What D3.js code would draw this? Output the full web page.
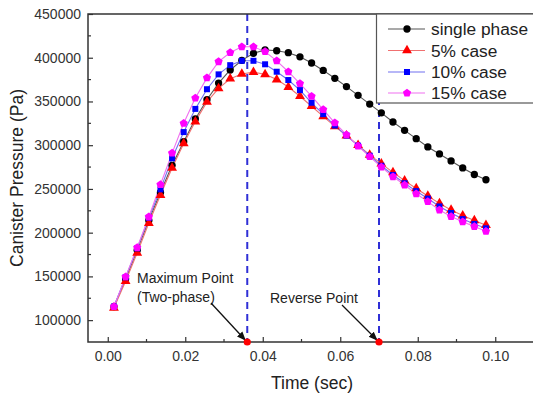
<!DOCTYPE html>
<html><head><meta charset="utf-8">
<script src="https://cdn.jsdelivr.net/npm/d3@7"></script>
<style>body{margin:0;background:#fff;} svg{display:block;font-family:"Liberation Sans",Arial,sans-serif;}</style>
</head><body>
<script>
const times = d3.range(33).map(i => +(0.0016 + 0.003 * i).toFixed(4));
const singlePhase = [115500,147000,180000,214000,246000,277000,304000,330000,352000,371000,386000,397000,405000,409000,408000,405800,401000,394000,385500,376500,367000,357000,347000,337000,326500,317000,307500,298000,290000,282000,274000,266500,260500];
const case5 = [114000,144500,177000,211000,243000,274000,302000,327000,349500,365000,376000,381500,383500,381000,375000,366500,356000,344500,333000,321500,311000,300000,289000,279000,269000,259500,250500,242000,233500,226000,219500,214000,208500];
const case10 = [115500,149000,182000,217000,249500,285000,315000,341500,364000,381000,391500,396500,396500,392500,384000,374500,363000,348500,335500,322500,311000,299500,288000,276500,266000,256500,247500,239000,230000,222500,215500,210000,205000];
const case15 = [115500,149500,183000,218000,255000,291000,325000,354000,377000,395500,406000,412500,412500,407000,396500,384000,370500,356000,340800,325500,312000,299000,287000,275000,264000,254500,244500,235500,226000,218500,212500,207000,201500];
const seriesNames = ["single phase","5% case","10% case","15% case"];
const xTicks = [0.00,0.02,0.04,0.06,0.08,0.10];
const yTicks = [100000,150000,200000,250000,300000,350000,400000,450000];
const markerLines = [0.036, 0.07];

const W = 533, H = 394;
const m = {left: 88, top: 14, right: 534, bottom: 342};
const svg = d3.select("body").append("svg").attr("width", W).attr("height", H);
const x = d3.scaleLinear().domain([-0.0051, 0.11]).range([m.left, m.right]);
const y = d3.scaleLinear().domain([75000, 450000]).range([m.bottom, m.top]);

const styles = [
  {data: singlePhase, line: "#555555", fill: "#000000", shape: "circle"},
  {data: case5, line: "#f07070", fill: "#ff0000", shape: "triangle"},
  {data: case10, line: "#7070f0", fill: "#0000ff", shape: "square"},
  {data: case15, line: "#f070f0", fill: "#ff00ff", shape: "pentagon"}
];

function markerPath(shape) {
  if (shape === "circle") return d3.symbol(d3.symbolCircle, 42)();
  if (shape === "triangle") return d3.symbol(d3.symbolTriangle, 42)();
  if (shape === "square") return d3.symbol(d3.symbolSquare, 36)();
  const r = 4.3;
  const pts = d3.range(5).map(k => {
    const a = -Math.PI/2 + k * 2*Math.PI/5;
    return [r*Math.cos(a), r*Math.sin(a)];
  });
  return "M" + pts.map(p => p.join(",")).join("L") + "Z";
}

// dashed vertical lines
markerLines.forEach(v => {
  svg.append("line").attr("x1", x(v)).attr("x2", x(v)).attr("y1", m.top).attr("y2", m.bottom)
    .attr("stroke", "#2f2fd6").attr("stroke-width", 2).attr("stroke-dasharray", "7,5");
});

// series
const line = d3.line().x((d,i) => x(times[i])).y(d => y(d));
styles.forEach(s => {
  svg.append("path").datum(s.data).attr("d", line).attr("fill", "none")
    .attr("stroke", s.line).attr("stroke-width", 1.1);
});
styles.forEach(s => {
  svg.append("g").selectAll("path").data(s.data).join("path")
    .attr("d", markerPath(s.shape))
    .attr("transform", (d,i) => `translate(${x(times[i])},${y(d)})`)
    .attr("fill", s.fill);
});

// axes
const xAxis = d3.axisBottom(x).tickValues(xTicks).tickFormat(d3.format(".2f")).tickSizeInner(-5).tickSizeOuter(0).tickPadding(9);
const gx = svg.append("g").attr("transform", `translate(0,${m.bottom})`).call(xAxis);
const yAxis = d3.axisLeft(y).tickValues(yTicks).tickFormat(d3.format("d")).tickSizeInner(-5).tickSizeOuter(0).tickPadding(7);
const gy = svg.append("g").attr("transform", `translate(${m.left},0)`).call(yAxis);
[gx, gy].forEach(g => {
  g.select(".domain").remove();
  g.selectAll("line").attr("stroke", "#333").attr("stroke-width", 1.2);
  g.selectAll("text").attr("font-size", 14).attr("fill", "#333").attr("font-family", "'Liberation Sans',Arial,sans-serif");
});
// minor ticks
const xMinor = [0.01,0.03,0.05,0.07,0.09];
svg.append("g").selectAll("line").data(xMinor).join("line")
  .attr("x1", d => x(d)).attr("x2", d => x(d)).attr("y1", m.bottom).attr("y2", m.bottom - 3)
  .attr("stroke", "#333").attr("stroke-width", 1.2);
const yMinor = [125000,175000,225000,275000,325000,375000,425000];
svg.append("g").selectAll("line").data(yMinor).join("line")
  .attr("x1", m.left).attr("x2", m.left + 3).attr("y1", d => y(d)).attr("y2", d => y(d))
  .attr("stroke", "#333").attr("stroke-width", 1.2);

// frame
svg.append("path").attr("d", `M${m.right},${m.top}H${m.left}V${m.bottom}H${m.right}`)
  .attr("fill", "none").attr("stroke", "#333").attr("stroke-width", 1.5);

// legend
const lg = svg.append("g");
lg.append("rect").attr("x", 376.5).attr("y", m.top).attr("width", 170).attr("height", 89)
  .attr("fill", "#fff").attr("stroke", "#555").attr("stroke-width", 1.2);
const rowY = [29, 50.5, 72, 93];
styles.forEach((s, k) => {
  lg.append("line").attr("x1", 388).attr("x2", 425).attr("y1", rowY[k]).attr("y2", rowY[k])
    .attr("stroke", s.line).attr("stroke-width", 1.1);
  lg.append("path").attr("d", markerPath(s.shape)).attr("transform", `translate(407,${rowY[k]})`).attr("fill", s.fill);
  lg.append("text").attr("x", 431).attr("y", rowY[k] + 6).attr("font-size", 17.3).attr("fill", "#222").text(seriesNames[k]);
});

// axis titles
svg.append("text").attr("x", 312).attr("y", 389).attr("text-anchor", "middle").attr("font-size", 17.5).attr("fill", "#222").text("Time (sec)");
svg.append("text").attr("transform", "translate(23,178) rotate(-90)").attr("text-anchor", "middle").attr("font-size", 17.5).attr("fill", "#222").text("Canister Pressure (Pa)");

// annotations
svg.append("defs").append("marker").attr("id", "ah").attr("viewBox", "0 0 10 10").attr("refX", 9).attr("refY", 5)
  .attr("markerWidth", 7).attr("markerHeight", 7).attr("orient", "auto")
  .append("path").attr("d", "M0,1L10,5L0,9Z").attr("fill", "#111");
const ann = [
  {v: 0.036, lines: ["Maximum Point", "(Two-phase)"], tx: 137, ty: 283, ax: 211, ay: 303},
  {v: 0.07, lines: ["Reverse Point"], tx: 270, ty: 302.5, ax: 342, ay: 305}
];
ann.forEach(a => {
  a.lines.forEach((t, k) => svg.append("text").attr("x", a.tx).attr("y", a.ty + k * 18.5)
    .attr("font-size", 14).attr("fill", "#222").text(t));
  svg.append("line").attr("x1", a.ax).attr("y1", a.ay).attr("x2", x(a.v) - 2).attr("y2", m.bottom - 2)
    .attr("stroke", "#111").attr("stroke-width", 1.3).attr("marker-end", "url(#ah)");
  svg.append("circle").attr("cx", x(a.v)).attr("cy", m.bottom).attr("r", 3.6).attr("fill", "#ff0000");
});
</script>
</body></html>
